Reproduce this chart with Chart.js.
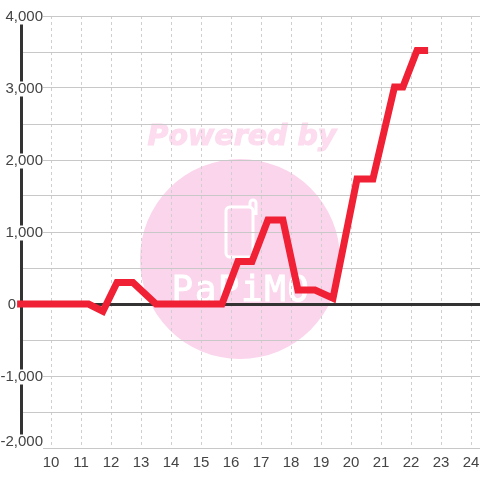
<!DOCTYPE html>
<html>
<head>
<meta charset="utf-8">
<style>
  html, body { margin: 0; padding: 0; background: #fff; }
  canvas { display: block; }
</style>
<script src="https://cdn.jsdelivr.net/npm/chart.js@4"></script>
</head>
<body>
<canvas id="graph1" width="480" height="480"></canvas>
<script>
// valores
const hours = [8.87, 11.25, 11.73, 12.2, 12.73, 13.5, 15.7, 16.23, 16.7, 17.23, 17.73, 18.23, 18.8, 19.4, 20.2, 20.73, 21.45, 21.73, 22.2, 22.57];
const values = [0, 0, -100, 300, 300, 0, 0, 590, 590, 1165, 1165, 195, 195, 80, 1735, 1735, 3015, 3015, 3520, 3520];
const xTicks = [10, 11, 12, 13, 14, 15, 16, 17, 18, 19, 20, 21, 22, 23, 24];
const yTicks = [4000, 3500, 3000, 2500, 2000, 1500, 1000, 500, 0, -500, -1000, -1500, -2000];

// marca d'agua por baixo da grade
const watermark = {
    id: 'watermark',
    beforeDraw(chart) {
        const ctx = chart.ctx;
        ctx.save();
        ctx.fillStyle = '#fbd5ec';
        ctx.beginPath();
        ctx.arc(240, 259, 100, 0, Math.PI * 2);
        ctx.fill();

        ctx.fillStyle = '#fcdcee';
        ctx.strokeStyle = '#fcdcee';
        ctx.lineWidth = 1;
        ctx.font = 'italic bold 28.5px "DejaVu Sans"';
        ctx.textAlign = 'center';
        ctx.textBaseline = 'alphabetic';
        ctx.fillText('Powered by', 242, 145);
        ctx.strokeText('Powered by', 242, 145);

        ctx.strokeStyle = '#fff';
        ctx.lineWidth = 3;
        ctx.beginPath();
        ctx.roundRect(226, 207, 27, 50, 4);
        ctx.moveTo(250, 207);
        ctx.lineTo(250, 203);
        ctx.arc(253, 203, 3, Math.PI, 0);
        ctx.lineTo(256, 215);
        ctx.stroke();

        ctx.fillStyle = '#fff';
        ctx.lineWidth = 0.8;
        ctx.font = '36px "DejaVu Sans Mono"';
        ctx.letterSpacing = '1.5px';
        ctx.fillText('PaPiMO', 241, 301);
        ctx.strokeText('PaPiMO', 241, 301);
        ctx.restore();
    }
};

// ajusta o rotulo 0 e o -2,000, que no original saem deslocados
function shiftLabels(scale) {
    if (scale._shifted) return;
    scale._shifted = true;
    const compute = scale._computeLabelItems;
    scale._computeLabelItems = function(area) {
        const items = compute.call(this, area);
        items.forEach(item => {
            const t = item.options.translation;
            if (item.label === '0') {
                item.options.translation = [t[0] - 27, t[1] + 1];
                item.options.backdrop = undefined;
            } else if (item.label === '-2,000') {
                item.options.translation = [t[0], t[1] - 6];
            } else {
                item.options.translation = [t[0], t[1] + 1];
            }
        });
        return items;
    };
}

const chart = new Chart(document.getElementById('graph1'), {
    type: 'line',
    data: {
        datasets: [{
            data: hours.map((h, i) => ({x: h, y: values[i]})),
            borderColor: '#f02035',
            borderWidth: 7,
            borderJoinStyle: 'miter',
            borderCapStyle: 'butt',
            tension: 0,
            pointRadius: 0,
            clip: false,
        }]
    },
    plugins: [watermark],
    options: {
        responsive: false,
        animation: false,
        layout: { autoPadding: false, padding: { top: 16, left: 0, right: 0, bottom: 0 } },
        plugins: { legend: { display: false }, tooltip: { enabled: false } },
        scales: {
            x: {
                type: 'linear',
                min: 9,
                max: 24.3,
                afterBuildTicks: scale => { scale.ticks = xTicks.map(v => ({value: v})); },
                afterFit: scale => {
                    scale.height = 32;
                    scale.paddingLeft = 0;
                    scale.paddingRight = 0;
                },
                border: { display: false, dash: [3, 3] },
                grid: { color: '#cfcfcf', drawTicks: false },
                ticks: {
                    color: '#444',
                    padding: 6,
                    maxRotation: 0,
                    autoSkip: false,
                    font: { family: 'Liberation Sans', size: 15 },
                    callback: v => String(v),
                }
            },
            y: {
                min: -2000,
                max: 4000,
                afterBuildTicks: scale => { scale.ticks = yTicks.map(v => ({value: v})); },
                afterFit: scale => {
                    scale.width = 21;
                    // rotulos passam por cima do eixo, sem recorte
                    scale._computeLabelArea = () => undefined;
                    shiftLabels(scale);
                },
                border: { color: '#333', width: 3 },
                grid: {
                    color: ctx => ctx.tick.value === 0 ? '#333' : '#c8c8c8',
                    lineWidth: ctx => ctx.tick.value === 0 ? 3 : 1,
                    drawTicks: false,
                },
                ticks: {
                    color: '#444',
                    padding: -22,
                    autoSkip: false,
                    showLabelBackdrop: true,
                    backdropColor: '#fff',
                    backdropPadding: 0,
                    font: { family: 'Liberation Sans', size: 15, lineHeight: 1 },
                    callback: v => v % 1000 ? '' : v.toLocaleString('en-US'),
                }
            }
        }
    }
});
</script>
</body>
</html>
